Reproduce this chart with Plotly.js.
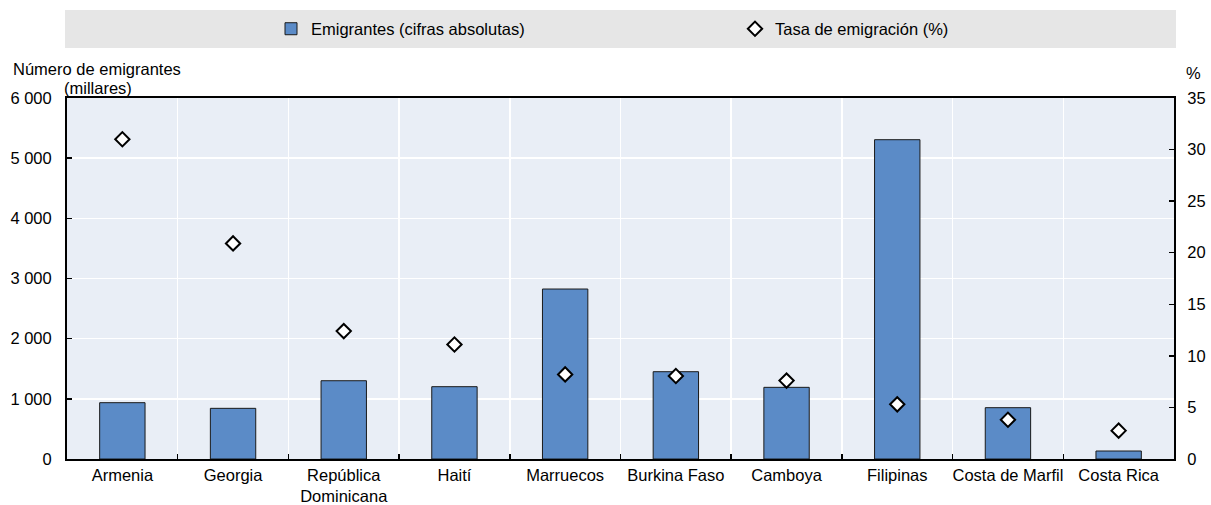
<!DOCTYPE html>
<html>
<head>
<meta charset="utf-8">
<script src="https://cdn.plot.ly/plotly-3.0.1.min.js"></script>
<style>
html,body{margin:0;padding:0;background:#fff;}
#chart{width:1211px;height:505px;}
</style>
</head>
<body>
<div id="chart"></div>
<script>
const countries = ["Armenia", "Georgia", "República<br>Dominicana", "Haití", "Marruecos", "Burkina Faso", "Camboya", "Filipinas", "Costa de Marfil", "Costa Rica"];
const emigrants = [936, 842, 1301, 1202, 2825, 1451, 1191, 5307, 853, 133];
const emigrationRate = [31.0, 20.9, 12.4, 11.1, 8.2, 8.05, 7.6, 5.3, 3.8, 2.75];
const leftTicks = [0, 1000, 2000, 3000, 4000, 5000, 6000];
const rightTicks = [0, 5, 10, 15, 20, 25, 30, 35];

const FONT = '"Liberation Sans", Arial, sans-serif';
const FS = 16.5;
const W = 1211, H = 505, L = 67, R = 37, T = 98, B = 46;
const pw = W - L - R, ph = H - T - B;
const px = x => (x - L) / pw;
const py = y => (H - B - y) / ph;

const traces = [
  {
    type: 'bar', name: 'Emigrantes (cifras absolutas)',
    x: countries, y: emigrants, yaxis: 'y',
    marker: {color: '#5b8bc7', line: {color: '#1a1a1a', width: 1}},
    hoverinfo: 'skip'
  },
  {
    type: 'scatter', mode: 'markers', name: 'Tasa de emigración (%)',
    x: countries, y: emigrationRate, yaxis: 'y2',
    marker: {symbol: 'diamond', size: 11, color: '#ffffff', line: {color: '#000000', width: 2}},
    hoverinfo: 'skip'
  }
];

const layout = {
  width: W, height: H,
  margin: {l: L, r: R, t: T, b: B, pad: 0, autoexpand: false},
  paper_bgcolor: '#ffffff',
  plot_bgcolor: '#e9eef6',
  separators: '. ',
  font: {family: FONT, size: FS, color: '#000000'},
  bargap: 0.59,
  showlegend: true,
  legend: {
    orientation: 'h', x: px(271), xanchor: 'left', y: py(29), yanchor: 'middle',
    bgcolor: 'rgba(0,0,0,0)', font: {family: FONT, size: FS, color: '#000'},
    entrywidth: 419, entrywidthmode: 'pixels', itemwidth: 30, traceorder: 'normal'
  },
  xaxis: {
    type: 'category', range: [-0.5, 9.5], tickson: 'boundaries', tickangle: 0,
    automargin: false,
    showgrid: true, gridcolor: '#ffffff', gridwidth: 1.5,
    ticks: 'inside', ticklen: 5, tickcolor: '#000', tickwidth: 1.5,
    showline: true, linecolor: '#000', linewidth: 2, mirror: true,
    tickfont: {family: FONT, size: FS, color: '#000'},
    fixedrange: true, zeroline: false
  },
  yaxis: {
    range: [0, 6000], tickvals: leftTicks, tickformat: ',d',
    automargin: false,
    showgrid: true, gridcolor: '#ffffff', gridwidth: 1.5,
    ticks: 'inside', ticklen: 5, tickcolor: '#000', tickwidth: 1.5,
    showline: true, linecolor: '#000', linewidth: 2,
    zeroline: false, ticklabelstandoff: 10,
    tickfont: {family: FONT, size: FS, color: '#000'},
    fixedrange: true
  },
  yaxis2: {
    overlaying: 'y', side: 'right', range: [0, 35], tickvals: rightTicks,
    automargin: false,
    showgrid: false, zeroline: false,
    ticks: 'inside', ticklen: 5, tickcolor: '#000', tickwidth: 1.5,
    showline: true, linecolor: '#000', linewidth: 2,
    ticklabelstandoff: 8,
    tickfont: {family: FONT, size: FS, color: '#000'},
    fixedrange: true
  },
  shapes: [
    {type: 'rect', xref: 'paper', yref: 'paper', layer: 'below',
     x0: px(65), x1: px(1176), y0: py(48), y1: py(10),
     fillcolor: '#e6e6e6', line: {width: 0}}
  ],
  annotations: [
    {text: 'Número de emigrantes', xref: 'paper', yref: 'paper', x: px(11), y: py(69),
     xanchor: 'left', yanchor: 'middle', showarrow: false, font: {family: FONT, size: FS, color: '#000'}},
    {text: '(millares)', xref: 'paper', yref: 'paper', x: px(62), y: py(88),
     xanchor: 'left', yanchor: 'middle', showarrow: false, font: {family: FONT, size: FS, color: '#000'}},
    {text: '%', xref: 'paper', yref: 'paper', x: px(1193), y: py(73),
     xanchor: 'center', yanchor: 'middle', showarrow: false, font: {family: FONT, size: FS, color: '#000'}}
  ]
};

Plotly.newPlot('chart', traces, layout, {displayModeBar: false, staticPlot: true});
</script>
</body>
</html>
